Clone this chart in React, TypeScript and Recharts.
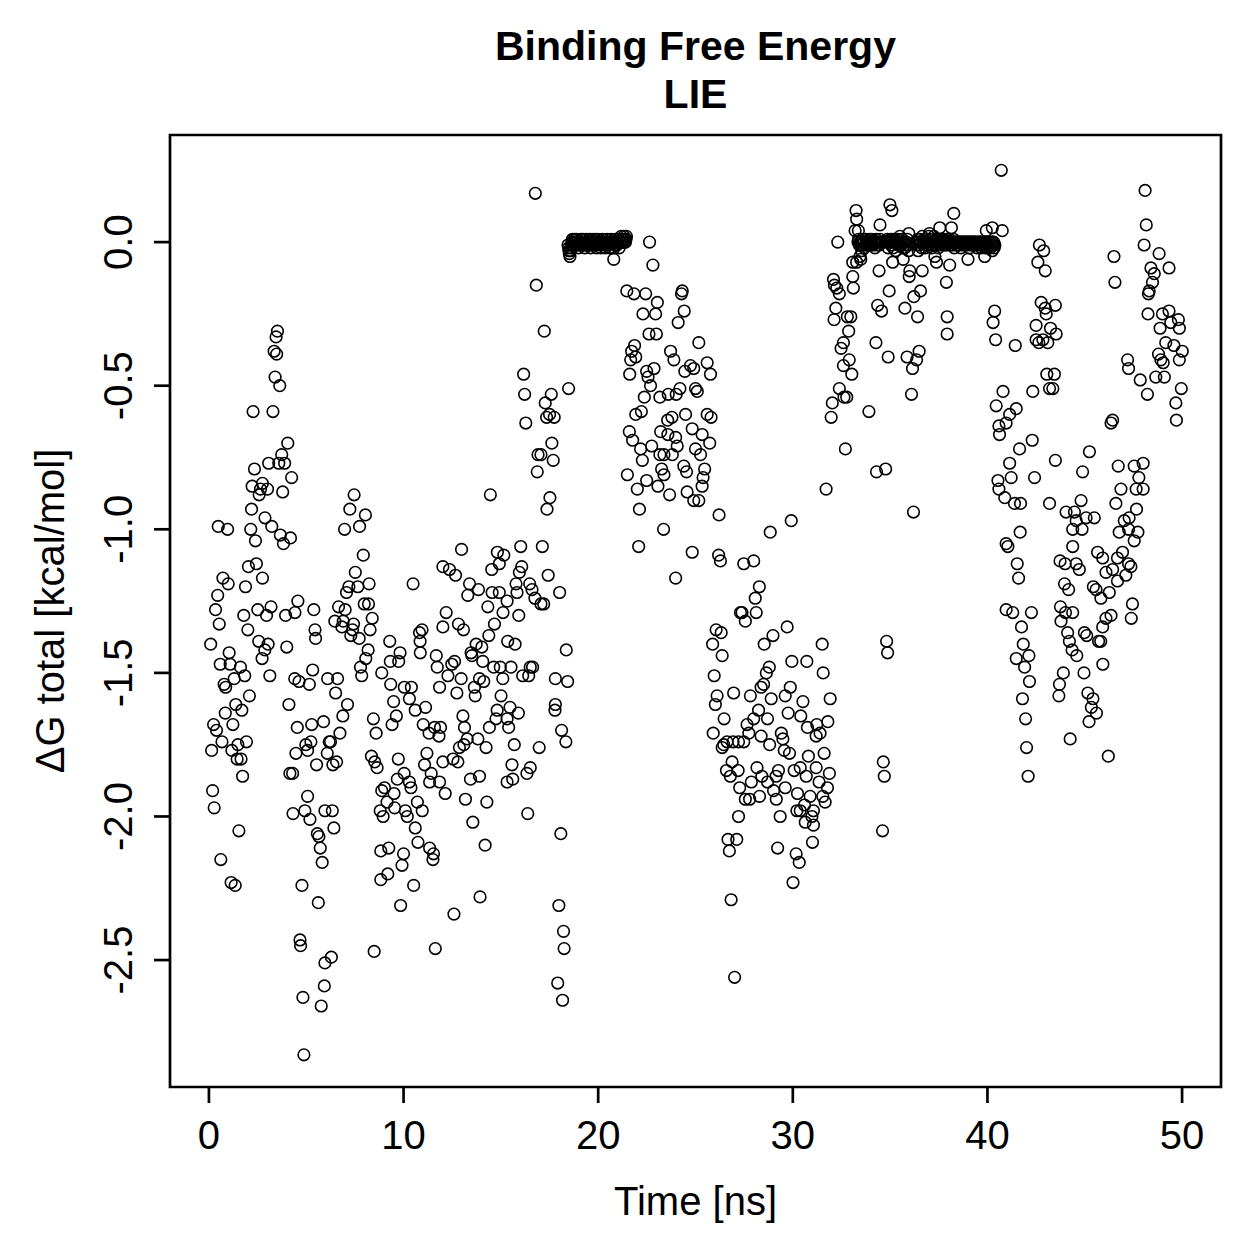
import { ScatterChart, Scatter, XAxis, YAxis, ReferenceArea } from "recharts";

// [time in ns, ΔG total in kcal/mol], read frame by frame along the trajectory
const early: [number, number][] = [
  [3.52, -0.31], [3.45, -0.33], [3.35, -0.38], [3.48, -0.39], [3.4, -0.47], [3.64, -0.5], [2.27, -0.59], [3.29, -0.59],
  [4.05, -0.7], [3.74, -0.74], [3.59, -0.77], [3.89, -0.77], [3.07, -0.77], [2.34, -0.79], [4.25, -0.82], [2.22, -0.85],
  [2.75, -0.84], [2.65, -0.86], [3.01, -0.86], [2.58, -0.88], [3.79, -0.87], [2.19, -0.93], [2.88, -0.96], [3.23, -0.99],
  [0.48, -0.99], [0.96, -1.0], [2.15, -1.0], [2.39, -1.04], [3.67, -1.02], [4.19, -1.03], [3.83, -1.05], [7.46, -0.88],
  [7.24, -0.93], [8.04, -0.95], [6.97, -1.0], [7.74, -0.99], [7.93, -1.09], [7.52, -1.15], [2.44, -1.12], [2.03, -1.13],
  [0.72, -1.17], [2.75, -1.17], [0.99, -1.19], [1.88, -1.2], [0.45, -1.23], [0.34, -1.28], [0.53, -1.33], [1.79, -1.3],
  [2.0, -1.35], [2.51, -1.28], [2.96, -1.3], [3.19, -1.27], [3.94, -1.3], [4.42, -1.29], [4.57, -1.25], [5.39, -1.28],
  [5.45, -1.35], [5.48, -1.38], [8.23, -1.19], [7.19, -1.2], [7.07, -1.22], [7.65, -1.2], [6.66, -1.27], [7.0, -1.28],
  [7.98, -1.26], [8.2, -1.26], [8.39, -1.31], [6.47, -1.32], [6.9, -1.32], [6.83, -1.34], [7.43, -1.33], [7.38, -1.35],
  [7.29, -1.37], [7.72, -1.38], [8.28, -1.35], [10.49, -1.19], [9.29, -1.39], [10.82, -1.36], [10.95, -1.35], [10.85, -1.39],
  [10.86, -1.43], [9.82, -1.43], [9.75, -1.46], [9.32, -1.46], [8.18, -1.42], [8.06, -1.45], [7.79, -1.48], [7.85, -1.51],
  [8.88, -1.5], [9.34, -1.54], [10.04, -1.55], [10.4, -1.55], [10.3, -1.59], [10.6, -1.63], [11.13, -1.62], [9.49, -1.6],
  [9.63, -1.65], [9.41, -1.68], [8.45, -1.66], [8.59, -1.71], [11.01, -1.68], [11.59, -1.69], [11.31, -1.71], [11.82, -1.72],
  [11.2, -1.78], [11.08, -1.82], [11.42, -1.85], [11.34, -1.88], [9.73, -1.8], [8.35, -1.79], [8.52, -1.81], [8.64, -1.83],
  [10.03, -1.85], [10.3, -1.88], [10.38, -1.9], [9.68, -1.87], [9.51, -1.92], [8.88, -1.91], [9.02, -1.9], [9.15, -1.95],
  [8.8, -1.98], [8.95, -2.0], [9.54, -1.97], [10.09, -1.98], [10.19, -2.0], [10.71, -1.95], [10.96, -1.98], [10.6, -2.04],
  [10.74, -2.09], [11.34, -2.11], [11.54, -2.13], [8.83, -2.12], [9.24, -2.11], [10.0, -2.13], [0.61, -2.15],
  [0.09, -1.4], [1.04, -1.43], [0.58, -1.47], [1.09, -1.47], [1.62, -1.48], [1.84, -1.51], [1.3, -1.52], [0.78, -1.54],
  [0.86, -1.55], [3.13, -1.51], [2.56, -1.39], [3.04, -1.4], [2.87, -1.42], [2.73, -1.45], [4.0, -1.41], [2.08, -1.58],
  [1.38, -1.61], [1.69, -1.63], [0.84, -1.64], [0.24, -1.68], [0.39, -1.7], [1.23, -1.68], [0.67, -1.74], [1.93, -1.74],
  [1.49, -1.75], [1.18, -1.77], [0.14, -1.77], [1.45, -1.8], [1.65, -1.8], [1.73, -1.86], [0.19, -1.91], [0.27, -1.97],
  [1.54, -2.05], [4.41, -1.52], [4.63, -1.53], [5.16, -1.54], [5.33, -1.49], [6.1, -1.52], [6.61, -1.52], [6.51, -1.57],
  [7.12, -1.61], [4.11, -1.61], [4.54, -1.69], [5.28, -1.68], [5.89, -1.67], [6.88, -1.65], [6.73, -1.71], [6.18, -1.74],
  [6.25, -1.74], [5.24, -1.74], [4.98, -1.75], [5.07, -1.77], [4.47, -1.78], [6.08, -1.78], [6.56, -1.81], [6.37, -1.82],
  [5.53, -1.82], [4.16, -1.85], [4.3, -1.85], [5.07, -1.93], [4.32, -1.99], [4.93, -1.98], [5.19, -2.01], [5.96, -1.98],
  [6.34, -1.98], [6.42, -2.04], [5.57, -2.06], [5.65, -2.07], [5.72, -2.11], [1.14, -2.23], [1.35, -2.24], [4.78, -2.24],
  [5.62, -2.3], [5.82, -2.16], [4.68, -2.43], [4.71, -2.45], [6.29, -2.49], [5.96, -2.51], [5.93, -2.59], [4.83, -2.63],
  [5.77, -2.66], [4.88, -2.83], [8.49, -2.47], [11.63, -2.46], [11.51, -2.15], [9.92, -2.17], [9.19, -2.2], [8.83, -2.22],
  [10.52, -2.24], [9.85, -2.31],
];

const rising: [number, number][] = [
  [16.77, 0.17], [16.82, -0.15], [17.23, -0.31], [16.17, -0.46], [16.22, -0.53], [18.48, -0.51], [17.59, -0.53], [17.28, -0.56],
  [17.35, -0.61], [17.5, -0.6], [17.74, -0.61], [16.28, -0.63], [17.62, -0.7], [16.91, -0.74], [17.06, -0.74], [17.69, -0.76],
  [16.87, -0.8], [14.46, -0.88], [17.52, -0.89], [17.37, -0.93], [12.98, -1.07], [14.82, -1.08], [15.15, -1.09], [16.02, -1.06],
  [17.13, -1.06], [12.02, -1.13], [12.36, -1.14], [12.67, -1.16], [14.53, -1.14], [14.92, -1.12], [15.95, -1.15], [16.07, -1.13],
  [17.43, -1.16], [13.39, -1.19], [13.3, -1.23], [13.85, -1.21], [14.55, -1.22], [14.92, -1.22], [15.78, -1.19], [15.83, -1.22],
  [16.48, -1.19], [16.6, -1.21], [16.75, -1.24], [17.06, -1.26], [17.2, -1.26], [18.02, -1.22], [15.32, -1.25], [14.33, -1.27],
  [15.11, -1.29], [15.92, -1.3], [12.19, -1.29], [12.02, -1.34], [12.82, -1.33], [13.08, -1.35], [14.67, -1.33], [14.38, -1.37],
  [15.35, -1.39], [15.73, -1.4], [13.73, -1.4], [14.02, -1.41], [13.47, -1.43], [13.51, -1.44], [18.36, -1.42], [11.68, -1.44],
  [12.62, -1.46], [14.07, -1.46], [11.73, -1.48], [12.48, -1.47], [14.63, -1.48], [14.97, -1.48], [15.52, -1.48], [16.63, -1.48],
  [16.51, -1.48], [12.28, -1.51], [12.96, -1.52], [13.9, -1.52], [14.12, -1.53], [15.1, -1.52], [16.12, -1.51], [16.43, -1.51],
  [17.8, -1.52], [18.43, -1.53], [11.85, -1.55], [12.74, -1.57], [13.64, -1.55], [13.68, -1.58], [15.01, -1.58], [13.05, -1.65],
  [14.81, -1.63], [15.47, -1.62], [15.9, -1.64], [14.75, -1.66], [15.32, -1.66], [17.8, -1.61], [17.78, -1.63], [11.9, -1.69],
  [13.13, -1.69], [14.41, -1.69], [15.4, -1.69], [18.12, -1.7], [18.34, -1.74], [13.27, -1.73], [13.82, -1.73], [13.1, -1.75],
  [12.87, -1.76], [14.24, -1.76], [15.69, -1.75], [16.97, -1.76], [12.02, -1.81], [12.54, -1.8], [12.79, -1.81], [15.57, -1.82],
  [16.51, -1.83], [16.34, -1.85], [11.85, -1.88], [13.44, -1.87], [13.9, -1.86], [15.32, -1.88], [15.61, -1.87], [12.14, -1.92],
  [13.18, -1.94], [14.28, -1.95], [16.38, -1.99], [13.56, -2.02], [18.08, -2.06], [14.19, -2.1], [13.93, -2.28], [12.59, -2.34],
  [17.98, -2.31], [18.22, -2.4], [18.25, -2.46], [17.92, -2.58], [18.17, -2.64],
];

// bound state around 18.5-21.5 ns, ΔG pinned near zero
const plateauA: [number, number][] = [
  [18.45, -0.01], [18.48, -0.02], [18.5, -0.03], [18.52, -0.04], [18.55, -0.05], [18.58, -0.03], [18.6, -0.02],
  [18.62, -0.01], [18.65, 0.0], [18.68, 0.01], [18.7, -0.01], [18.74, 0.0], [18.78, 0.01], [18.82, 0.0], [18.85, -0.01],
  [18.88, 0.01], [18.9, 0.0], [18.94, -0.01], [18.98, -0.02], [19.02, 0.0], [19.05, 0.0], [19.08, -0.01], [19.12, 0.01],
  [19.16, 0.0], [19.2, -0.01], [19.24, 0.01], [19.28, 0.0], [19.31, -0.02], [19.35, -0.01], [19.38, 0.01], [19.42, 0.0],
  [19.46, -0.01], [19.5, 0.0], [19.54, 0.01], [19.58, -0.01], [19.62, -0.02], [19.65, 0.0], [19.68, 0.01], [19.72, 0.0],
  [19.76, -0.01], [19.8, -0.01], [19.84, 0.01], [19.88, 0.0], [19.92, -0.02], [19.95, 0.0], [19.98, 0.01], [20.02, -0.01],
  [20.06, 0.0], [20.1, 0.0], [20.14, -0.02], [20.18, 0.0], [20.22, 0.01], [20.25, -0.01], [20.28, 0.0], [20.32, 0.0],
  [20.36, -0.02], [20.4, 0.0], [20.44, 0.01], [20.48, -0.01], [20.52, 0.0], [20.55, 0.0], [20.58, -0.02], [20.62, 0.0],
  [20.66, 0.01], [20.7, -0.02], [20.74, 0.0], [20.78, 0.0], [20.82, -0.02], [20.85, -0.01], [20.88, 0.01], [20.92, 0.0],
  [20.96, -0.01], [21.0, 0.0], [21.04, 0.01], [21.08, -0.02], [21.12, 0.0], [21.15, 0.0], [21.18, 0.02], [21.22, 0.01],
  [21.25, 0.0], [21.28, 0.0], [21.32, 0.02], [21.35, 0.01], [21.38, 0.0], [21.4, 0.0], [21.43, 0.01], [21.45, 0.02],
  [20.8, -0.06],
];

const middle: [number, number][] = [
  [22.64, 0.0], [22.81, -0.08], [21.47, -0.17], [21.84, -0.18], [22.44, -0.18], [23.04, -0.21], [22.3, -0.25], [22.95, -0.25],
  [24.28, -0.18], [24.32, -0.17], [24.42, -0.24], [24.11, -0.28], [22.61, -0.32], [22.99, -0.32], [21.87, -0.36], [21.72, -0.38],
  [21.93, -0.4], [21.67, -0.41], [21.62, -0.46], [23.72, -0.38], [23.89, -0.41], [22.49, -0.45], [22.87, -0.44], [22.56, -0.47],
  [22.69, -0.5], [24.45, -0.45], [24.74, -0.43], [22.37, -0.54], [23.17, -0.54], [23.6, -0.53], [24.01, -0.53], [24.2, -0.51],
  [21.93, -0.6], [22.22, -0.59], [23.57, -0.62], [23.79, -0.61], [24.49, -0.6], [21.6, -0.66], [21.77, -0.69], [23.21, -0.66],
  [23.58, -0.67], [23.98, -0.68], [22.18, -0.72], [22.75, -0.71], [24.06, -0.71], [23.38, -0.74], [23.17, -0.74], [23.81, -0.74],
  [22.27, -0.76], [21.5, -0.81], [22.49, -0.83], [23.26, -0.79], [23.38, -0.81], [24.4, -0.78], [24.54, -0.8], [22.01, -0.86],
  [23.07, -0.85], [23.67, -0.88], [24.57, -0.87], [22.08, -1.06], [23.36, -1.0], [22.12, -0.93], [23.98, -1.17],
  [25.17, -0.35], [24.91, -0.44], [25.6, -0.42], [25.77, -0.46], [25.0, -0.51], [25.09, -0.52], [25.6, -0.6], [25.8, -0.61],
  [24.83, -0.65], [25.34, -0.67], [25.73, -0.7], [25.0, -0.72], [25.26, -0.74], [25.47, -0.79], [25.39, -0.82], [25.34, -0.85],
  [25.17, -0.9], [24.91, -0.9], [26.21, -0.95], [24.83, -1.08], [26.19, -1.09], [26.28, -1.11],
];

const dip: [number, number][] = [
  [27.48, -1.12], [27.99, -1.11], [28.84, -1.01], [29.92, -0.97], [28.28, -1.2], [28.07, -1.24], [27.39, -1.29], [27.31, -1.29],
  [28.12, -1.29], [27.56, -1.32], [29.71, -1.34], [26.06, -1.35], [26.32, -1.36], [25.88, -1.4], [26.37, -1.44], [28.98, -1.37],
  [28.53, -1.4], [31.51, -1.4], [29.95, -1.46], [30.72, -1.46], [25.96, -1.51], [31.56, -1.5], [28.79, -1.48], [28.64, -1.5],
  [28.5, -1.54], [28.37, -1.55], [29.87, -1.55], [26.11, -1.58], [26.02, -1.61], [26.96, -1.57], [27.82, -1.58], [28.89, -1.59],
  [29.61, -1.58], [30.52, -1.6], [31.92, -1.59], [26.47, -1.66], [28.24, -1.63], [28.7, -1.66], [29.76, -1.64], [30.41, -1.65],
  [30.75, -1.69], [31.23, -1.68], [31.8, -1.67], [27.99, -1.66], [27.65, -1.68], [25.91, -1.71], [27.74, -1.71], [28.37, -1.72],
  [29.41, -1.71], [29.49, -1.73], [31.2, -1.72], [31.4, -1.71], [27.21, -1.74], [27.48, -1.74], [26.62, -1.74], [26.45, -1.75],
  [26.37, -1.76], [26.93, -1.74], [28.81, -1.75], [29.56, -1.77], [29.83, -1.78], [30.8, -1.79], [31.61, -1.78], [26.88, -1.81],
  [26.59, -1.84], [27.19, -1.84], [26.79, -1.86], [28.16, -1.83], [28.41, -1.86], [29.26, -1.84], [29.14, -1.86], [28.7, -1.88],
  [27.87, -1.88], [27.27, -1.9], [29.61, -1.9], [29.01, -1.91], [30.07, -1.84], [30.38, -1.83], [30.69, -1.86], [31.2, -1.83],
  [31.88, -1.85], [31.35, -1.88], [31.78, -1.9], [27.56, -1.94], [27.78, -1.94], [28.29, -1.93], [29.15, -1.94], [30.24, -1.92],
  [30.89, -1.93], [31.54, -1.93], [31.66, -1.95], [30.6, -1.96], [30.21, -1.98], [30.38, -1.98], [31.06, -1.98], [30.98, -2.0],
  [30.64, -2.02], [31.06, -2.03], [27.21, -2.0], [29.35, -2.0], [26.67, -2.08], [27.12, -2.08], [26.74, -2.12], [29.22, -2.11],
  [31.01, -2.09], [30.17, -2.13], [30.33, -2.16], [30.01, -2.23], [26.83, -2.29], [27.01, -2.56],
  [34.82, -1.39], [34.87, -1.43], [34.65, -1.81], [34.7, -1.86], [34.61, -2.05],
];

// second bound state, 33-40.5 ns
const plateauB: [number, number][] = [
  [33.35, 0.0], [33.38, 0.01], [33.42, -0.01], [33.46, 0.0], [33.5, 0.0], [33.54, -0.01], [33.58, 0.01], [33.62, 0.0],
  [33.65, 0.0], [33.68, -0.02], [33.72, -0.01], [33.76, 0.01], [33.8, 0.0], [33.84, -0.01], [33.88, 0.0], [33.92, 0.0],
  [33.95, 0.01], [33.98, -0.01], [34.02, 0.0], [34.06, 0.01], [34.1, -0.01], [34.14, 0.0], [34.18, 0.0], [34.22, -0.02],
  [34.25, 0.0], [34.28, 0.01], [34.32, -0.01], [34.36, 0.0], [34.4, 0.0], [34.44, -0.01], [34.48, 0.01], [34.52, 0.0],
  [34.55, 0.0], [34.82, 0.0], [34.86, 0.01], [34.9, -0.02], [34.94, 0.0], [34.98, 0.0], [35.02, 0.01], [35.05, -0.01],
  [35.08, 0.0], [35.12, 0.01], [35.16, -0.02], [35.2, 0.0], [35.24, 0.01], [35.28, -0.03], [35.32, 0.0], [35.35, 0.0],
  [35.38, 0.01], [35.42, -0.01], [35.46, 0.0], [35.5, 0.02], [35.54, -0.01], [35.58, 0.0], [35.62, 0.01], [35.65, -0.02],
  [35.68, 0.0], [35.72, 0.0], [35.76, -0.02], [35.8, -0.01], [35.84, 0.0], [35.88, 0.01], [35.92, -0.01], [35.95, -0.03],
  [36.35, 0.0], [36.38, -0.01], [36.42, 0.01], [36.46, 0.0], [36.5, -0.01], [36.54, 0.01], [36.58, 0.0], [36.62, -0.02],
  [36.65, 0.02], [36.68, 0.0], [36.72, 0.0], [36.76, 0.01], [36.8, -0.02], [36.84, 0.0], [36.88, 0.01], [36.92, -0.01],
  [36.95, 0.0], [36.98, 0.02], [37.02, 0.03], [37.06, 0.01], [37.1, 0.0], [37.14, -0.02], [37.18, -0.01], [37.22, 0.0],
  [37.25, 0.02], [37.28, 0.0], [37.32, 0.0], [37.36, -0.01], [37.4, 0.01], [37.44, 0.0], [37.48, -0.02], [37.52, 0.01],
  [37.55, 0.0], [37.58, -0.01], [37.62, 0.01], [37.66, 0.0], [37.7, 0.0], [37.74, 0.01], [37.78, -0.01], [37.82, 0.0],
  [37.85, 0.0], [37.88, -0.01], [37.92, 0.01], [37.96, 0.0], [38.0, 0.0], [38.04, 0.01], [38.08, -0.01], [38.12, 0.0],
  [38.15, 0.0], [38.18, -0.01], [38.22, 0.0], [38.26, 0.01], [38.3, -0.02], [38.34, 0.0], [38.38, 0.0], [38.42, -0.01],
  [38.45, 0.0], [38.48, 0.0], [38.52, -0.01], [38.56, 0.0], [38.6, 0.0], [38.64, -0.02], [38.68, 0.0], [38.72, 0.0],
  [38.75, -0.01], [38.78, 0.0], [38.82, 0.0], [38.86, -0.01], [38.9, 0.0], [38.94, 0.0], [38.98, -0.01], [39.02, 0.0],
  [39.05, 0.0], [39.08, -0.02], [39.12, 0.0], [39.16, 0.0], [39.2, -0.01], [39.24, 0.0], [39.28, 0.0], [39.32, -0.01],
  [39.35, 0.0], [39.38, 0.0], [39.42, -0.01], [39.46, -0.02], [39.5, 0.0], [39.54, 0.0], [39.58, -0.01], [39.62, 0.0],
  [39.65, 0.0], [39.68, -0.02], [39.72, -0.01], [39.76, 0.0], [39.8, 0.0], [39.84, -0.01], [39.88, -0.02], [39.92, 0.0],
  [39.95, 0.0], [39.98, -0.02], [40.02, -0.01], [40.06, 0.0], [40.1, 0.0], [40.14, -0.02], [40.18, -0.01], [40.22, 0.0],
  [40.25, 0.0], [40.28, -0.01], [40.32, 0.0], [40.35, -0.02], [40.38, -0.01],
];

const bound: [number, number][] = [
  [34.99, 0.13], [35.09, 0.11], [33.25, 0.11], [33.28, 0.08], [34.48, 0.06], [33.2, 0.04], [33.37, 0.04], [32.31, 0.0],
  [35.96, 0.03], [37.55, 0.05], [33.54, -0.03], [33.45, -0.05], [33.49, -0.06], [33.28, -0.07], [33.08, -0.07], [35.13, -0.07],
  [35.67, -0.06], [36.44, -0.03], [37.3, -0.05], [37.38, -0.07], [34.43, -0.1], [36.01, -0.1], [35.98, -0.12], [36.65, -0.1],
  [33.08, -0.12], [32.09, -0.13], [32.14, -0.15], [32.26, -0.16], [32.39, -0.18], [33.11, -0.16], [34.95, -0.17], [36.22, -0.19],
  [36.56, -0.17], [37.89, -0.14], [34.36, -0.22], [34.56, -0.24], [35.76, -0.23], [36.41, -0.26], [37.93, -0.26], [32.21, -0.23],
  [32.12, -0.27], [32.8, -0.26], [32.98, -0.26], [32.87, -0.31], [32.6, -0.35], [32.48, -0.37], [32.9, -0.41], [32.6, -0.43],
  [33.03, -0.46], [34.27, -0.35], [34.9, -0.4], [35.87, -0.4], [36.49, -0.38], [36.36, -0.41], [36.15, -0.44], [37.93, -0.32],
  [32.39, -0.51], [32.63, -0.54], [32.77, -0.54], [32.03, -0.56], [31.97, -0.61], [36.1, -0.53], [33.91, -0.59], [32.7, -0.72],
  [34.3, -0.8], [34.77, -0.79], [31.71, -0.86], [36.2, -0.94],
  [40.71, 0.25], [38.27, 0.1], [38.15, 0.05], [39.94, 0.04], [40.25, 0.05], [40.76, 0.04], [38.06, -0.08], [39.0, -0.06],
  [39.86, -0.05], [40.25, -0.03], [40.37, -0.24], [40.29, -0.28], [40.42, -0.34], [40.8, -0.52], [40.45, -0.57], [40.59, -0.64],
  [40.96, -0.63], [40.62, -0.67], [40.54, -0.83], [40.59, -0.86], [40.89, -0.89],
];

const late: [number, number][] = [
  [48.1, 0.18], [42.67, -0.01], [42.89, -0.03], [42.59, -0.07], [42.97, -0.1], [46.5, -0.05], [46.55, -0.14], [48.16, 0.06],
  [48.05, -0.01], [48.82, -0.04], [49.33, -0.09], [48.4, -0.09], [48.57, -0.11], [48.48, -0.14], [48.31, -0.17], [48.27, -0.18],
  [48.25, -0.25], [48.99, -0.25], [49.33, -0.24], [49.81, -0.27], [49.42, -0.28], [48.87, -0.3], [49.86, -0.3], [49.16, -0.35],
  [49.58, -0.36], [50.01, -0.38], [49.86, -0.41], [48.79, -0.39], [48.91, -0.41], [49.03, -0.42], [48.65, -0.47], [49.09, -0.47],
  [47.85, -0.48], [48.22, -0.53], [47.2, -0.41], [47.25, -0.44], [49.96, -0.51], [49.68, -0.56], [49.71, -0.62],
  [41.43, -0.36], [42.76, -0.21], [42.97, -0.23], [43.49, -0.22], [43.02, -0.25], [42.5, -0.29], [43.24, -0.3], [43.53, -0.32],
  [42.5, -0.34], [42.64, -0.35], [42.85, -0.34], [43.1, -0.35], [43.05, -0.46], [43.44, -0.46], [43.19, -0.51], [43.36, -0.51],
  [42.33, -0.52], [41.14, -0.6], [41.48, -0.58], [46.35, -0.63], [46.43, -0.62], [42.3, -0.69], [41.65, -0.72], [41.14, -0.77],
  [43.49, -0.76], [45.24, -0.73], [44.89, -0.8], [41.22, -0.82], [42.42, -0.82], [46.72, -0.78], [47.54, -0.78], [48.0, -0.77],
  [47.78, -0.82], [47.64, -0.86], [48.0, -0.86], [41.39, -0.91], [41.7, -0.91], [43.19, -0.91], [44.81, -0.9], [46.86, -0.86],
  [46.6, -0.91], [47.66, -0.93], [44.04, -0.94], [44.47, -0.94], [45.07, -0.96], [45.49, -0.96], [44.56, -0.97], [44.38, -1.0],
  [44.86, -1.0], [47.03, -0.97], [47.28, -0.96], [46.77, -1.01], [47.25, -1.0], [47.73, -1.01], [47.54, -1.04], [41.68, -1.01],
  [40.96, -1.05], [41.05, -1.06], [44.38, -1.06], [45.66, -1.08], [45.92, -1.1], [46.94, -1.08], [46.68, -1.1], [47.25, -1.12],
  [41.53, -1.12], [43.73, -1.11], [43.99, -1.12], [44.56, -1.12], [41.6, -1.17], [44.72, -1.14], [46.09, -1.15], [46.43, -1.14],
  [47.11, -1.16], [47.37, -1.13], [46.68, -1.18], [43.96, -1.19], [44.17, -1.21], [45.44, -1.2], [45.58, -1.21], [46.26, -1.22],
  [45.83, -1.24], [47.45, -1.26], [47.39, -1.31], [40.96, -1.28], [41.3, -1.29], [42.26, -1.29], [43.75, -1.27], [44.01, -1.29],
  [44.38, -1.29], [43.78, -1.32], [46.35, -1.3], [46.09, -1.31], [45.92, -1.34], [41.75, -1.34], [44.12, -1.36], [44.98, -1.36],
  [45.1, -1.37], [45.71, -1.39], [45.82, -1.39], [41.84, -1.4], [44.21, -1.39], [44.35, -1.42], [42.13, -1.44], [41.48, -1.45],
  [44.59, -1.44], [41.91, -1.48], [45.93, -1.47], [44.96, -1.5], [43.9, -1.5], [42.16, -1.53], [43.7, -1.54], [43.67, -1.58],
  [45.16, -1.57], [45.42, -1.59], [45.34, -1.62], [45.6, -1.64], [45.22, -1.67], [41.8, -1.59], [41.96, -1.66], [44.25, -1.73],
  [42.01, -1.76], [46.21, -1.79], [42.09, -1.86],
];

const timeTicks = [0, 10, 20, 30, 40, 50];
const dgTicks = [-2.5, -2.0, -1.5, -1.0, -0.5, 0.0];

const FONT = "'Liberation Sans', Arial, Helvetica, sans-serif";

const points = [...early, ...rising, ...plateauA, ...middle, ...dip, ...plateauB, ...bound, ...late].map(
  ([time, dg]) => ({ time, dg })
);

const OpenCircle = (props: any) => (
  <circle cx={props.cx} cy={props.cy} r={5.8} fill="none" stroke="#000" strokeWidth={1.6} />
);

const TimeTick = (props: any) => {
  const { x, y, payload } = props;
  return (
    <text x={x} y={y + 44} textAnchor="middle" fontFamily={FONT} fontSize={40} fill="#000">
      {payload.value}
    </text>
  );
};

const EnergyTick = (props: any) => {
  const { x, y, payload } = props;
  const tx = x - 20;
  return (
    <text
      x={tx}
      y={y}
      textAnchor="middle"
      transform={`rotate(-90, ${tx}, ${y})`}
      fontFamily={FONT}
      fontSize={40}
      fill="#000"
    >
      {Number(payload.value).toFixed(1)}
    </text>
  );
};

const TimeLabel = (props: any) => {
  const vb = props.viewBox || { x: 170, width: 1051 };
  return (
    <text x={vb.x + vb.width / 2} y={1215} textAnchor="middle" fontFamily={FONT} fontSize={40} fill="#000">
      Time [ns]
    </text>
  );
};

const EnergyLabel = () => (
  <text
    x={64}
    y={611}
    textAnchor="middle"
    transform="rotate(-90, 64, 611)"
    fontFamily={FONT}
    fontSize={40}
    fill="#000"
  >
    ΔG total [kcal/mol]
  </text>
);

export default function App() {
  return (
    <div style={{ position: "absolute", left: 0, top: 0, width: 1259, height: 1259, background: "#fff" }}>
      <svg
        width={1259}
        height={130}
        style={{ position: "absolute", left: 0, top: 0, pointerEvents: "none" }}
      >
        <text x={695.5} y={60} textAnchor="middle" fontFamily={FONT} fontWeight="bold" fontSize={41} fill="#000">
          Binding Free Energy
        </text>
        <text x={695.5} y={108} textAnchor="middle" fontFamily={FONT} fontWeight="bold" fontSize={41} fill="#000">
          LIE
        </text>
      </svg>
      <ScatterChart width={1259} height={1259} margin={{ top: 135, right: 38, bottom: 0, left: 0 }}>
        <XAxis
          type="number"
          dataKey="time"
          domain={[-2, 52]}
          ticks={timeTicks}
          allowDataOverflow
          interval={0}
          height={172}
          axisLine={false}
          tickSize={16}
          tickLine={{ stroke: "#000", strokeWidth: 2.7 }}
          tick={<TimeTick />}
          label={<TimeLabel />}
        />
        <YAxis
          type="number"
          dataKey="dg"
          domain={[-2.942, 0.373]}
          ticks={dgTicks}
          allowDataOverflow
          interval={0}
          width={170}
          axisLine={false}
          tickSize={16}
          tickLine={{ stroke: "#000", strokeWidth: 2.7 }}
          tick={<EnergyTick />}
          label={<EnergyLabel />}
        />
        <Scatter data={points} shape={<OpenCircle />} isAnimationActive={false} />
        <ReferenceArea
          x1={-2}
          x2={52}
          y1={-2.942}
          y2={0.373}
          fill="none"
          stroke="#000"
          strokeWidth={2.7}
          ifOverflow="visible"
        />
      </ScatterChart>
    </div>
  );
}
